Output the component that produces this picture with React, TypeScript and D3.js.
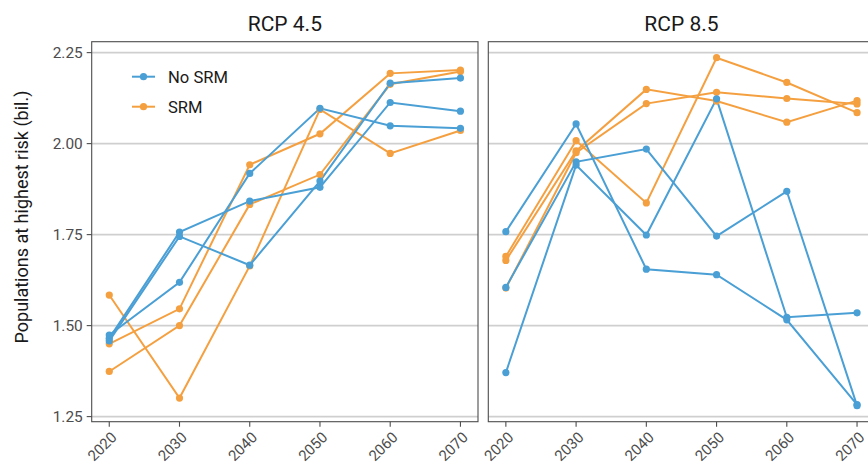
import { useCallback } from "react";
import * as d3 from "d3";

const years = [2020, 2030, 2040, 2050, 2060, 2070];
const panelTitles = ["RCP 4.5", "RCP 8.5"];
const yTicks = [1.25, 1.5, 1.75, 2.0, 2.25];
const legendLabels = ["No SRM", "SRM"];

// RCP 4.5
const rcp45NoSrm = [
  [1.465, 1.757, 1.842, 1.880, 2.113, 2.089],
  [1.458, 1.745, 1.666, 1.897, 2.166, 2.180],
  [1.474, 1.619, 1.918, 2.097, 2.049, 2.042],
];
const rcp45Srm = [
  [1.584, 1.301, 1.664, 2.094, 1.973, 2.036],
  [1.450, 1.546, 1.942, 2.027, 2.193, 2.202],
  [1.374, 1.500, 1.833, 1.915, 2.163, 2.198],
];

// RCP 8.5
const rcp85NoSrm = [
  [1.758, 2.054, 1.655, 1.640, 1.516, 1.283],
  [1.605, 1.950, 1.985, 1.746, 1.869, 1.280],
  [1.371, 1.941, 1.749, 2.123, 1.523, 1.535],
];
const rcp85Srm = [
  [1.690, 2.008, 1.837, 2.236, 2.168, 2.085],
  [1.679, 1.980, 2.149, 2.117, 2.059, 2.118],
  [1.603, 1.975, 2.110, 2.141, 2.124, 2.109],
];

const BLUE = "#4a9fd5";
const ORANGE = "#f5a040";

const App = () => {
  const draw = useCallback((node: HTMLDivElement | null) => {
    if (!node) return;
    d3.select(node).selectAll("*").remove();

    const width = 868;
    const height = 464;
    const top = 41.7;
    const bottom = 421.7;
    const panelW = 386.3;
    const panelLefts = [91.7, 488.3];
    const font = "Roboto, 'Noto Sans', sans-serif";

    const svg = d3
      .select(node)
      .append("svg")
      .attr("width", width)
      .attr("height", height)
      .style("display", "block")
      .attr("font-family", font);

    const y = d3.scaleLinear().domain([1.236, 2.28]).range([bottom, top]);

    const panels = [
      { noSrm: rcp45NoSrm, srm: rcp45Srm },
      { noSrm: rcp85NoSrm, srm: rcp85Srm },
    ];

    panels.forEach((p, pi) => {
      const x0 = panelLefts[pi];
      const x = d3.scaleLinear().domain([2017.5, 2072.5]).range([x0, x0 + panelW]);
      const g = svg.append("g");

      // grid
      g.selectAll("line.grid")
        .data(yTicks)
        .join("line")
        .attr("x1", x0)
        .attr("x2", x0 + panelW)
        .attr("y1", (d) => y(d))
        .attr("y2", (d) => y(d))
        .attr("stroke", "#cfcfcf")
        .attr("stroke-width", 1.6);

      const line = d3
        .line<number>()
        .x((_, i) => x(years[i]))
        .y((d) => y(d));

      const series = [
        ...p.srm.map((s) => ({ s, c: ORANGE })),
        ...p.noSrm.map((s) => ({ s, c: BLUE })),
      ];

      g.selectAll("path.series")
        .data(series)
        .join("path")
        .attr("d", (d) => line(d.s))
        .attr("fill", "none")
        .attr("stroke", (d) => d.c)
        .attr("stroke-width", 2);

      series.forEach((d) => {
        g.append("g")
          .selectAll("circle")
          .data(d.s)
          .join("circle")
          .attr("cx", (_, i) => x(years[i]))
          .attr("cy", (v) => y(v))
          .attr("r", 3.6)
          .attr("fill", d.c);
      });

      // border
      g.append("rect")
        .attr("x", x0)
        .attr("y", top)
        .attr("width", panelW)
        .attr("height", bottom - top)
        .attr("fill", "none")
        .attr("stroke", "#4d4d4d")
        .attr("stroke-width", 1.1);

      // x ticks
      g.selectAll("line.xtick")
        .data(years)
        .join("line")
        .attr("x1", (d) => x(d))
        .attr("x2", (d) => x(d))
        .attr("y1", bottom)
        .attr("y2", bottom + 5)
        .attr("stroke", "#4d4d4d")
        .attr("stroke-width", 1.1);

      g.selectAll("text.xlab")
        .data(years)
        .join("text")
        .attr("transform", (d) => `translate(${x(d) + 1},${bottom + 9}) rotate(-45)`)
        .attr("text-anchor", "end")
        .attr("dy", "0.71em")
        .attr("font-size", 15)
        .attr("fill", "#4d4d4d")
        .text((d) => d);

      // strip title
      svg
        .append("text")
        .attr("x", x0 + panelW / 2)
        .attr("y", 31)
        .attr("text-anchor", "middle")
        .attr("font-size", 21)
        .attr("fill", "#1a1a1a")
        .text(panelTitles[pi]);

      if (pi === 0) {
        g.selectAll("line.ytick")
          .data(yTicks)
          .join("line")
          .attr("x1", x0 - 5)
          .attr("x2", x0)
          .attr("y1", (d) => y(d))
          .attr("y2", (d) => y(d))
          .attr("stroke", "#4d4d4d")
          .attr("stroke-width", 1.1);

        g.selectAll("text.ylab")
          .data(yTicks)
          .join("text")
          .attr("x", x0 - 9)
          .attr("y", (d) => y(d))
          .attr("dy", "0.35em")
          .attr("text-anchor", "end")
          .attr("font-size", 15.4)
          .attr("fill", "#4d4d4d")
          .text((d) => d3.format(".2f")(d));

        // legend
        const lg = g.append("g");
        [BLUE, ORANGE].forEach((c, i) => {
          const ly = 76.7 + i * 30;
          lg.append("line")
            .attr("x1", 132)
            .attr("x2", 155)
            .attr("y1", ly)
            .attr("y2", ly)
            .attr("stroke", c)
            .attr("stroke-width", 2);
          lg.append("circle").attr("cx", 143.5).attr("cy", ly).attr("r", 3.6).attr("fill", c);
          lg.append("text")
            .attr("x", 168)
            .attr("y", ly)
            .attr("dy", "0.35em")
            .attr("font-size", 16.6)
            .attr("fill", "#1a1a1a")
            .text(legendLabels[i]);
        });
      }
    });

    svg
      .append("text")
      .attr("transform", `translate(28,217) rotate(-90)`)
      .attr("text-anchor", "middle")
      .attr("font-size", 18)
      .attr("fill", "#1a1a1a")
      .text("Populations at highest risk (bil.)");
  }, []);

  return <div ref={draw} style={{ position: "absolute", left: 0, top: 0 }}></div>;
};

export default App;
